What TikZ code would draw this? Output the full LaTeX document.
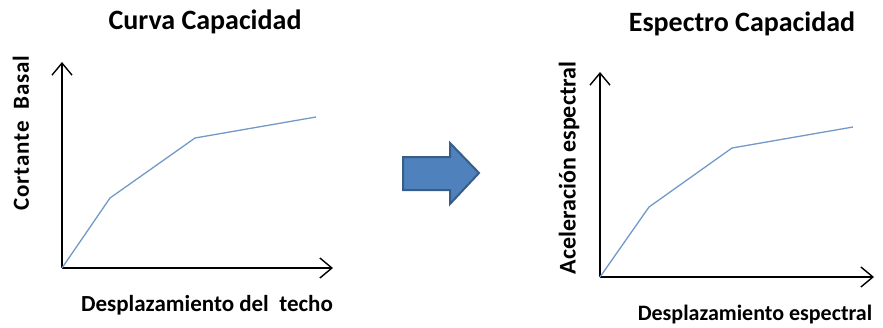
\documentclass[tikz,border=0pt]{standalone}
\usepackage{fontspec}
\setmainfont{Carlito}
\usetikzlibrary{arrows.meta}
\definecolor{curveblue}{HTML}{7399C9}
\definecolor{arrowfill}{HTML}{4F81BD}
\definecolor{arrowline}{HTML}{385D8A}
\begin{document}
\begin{tikzpicture}[x=1pt,y=-1pt,
  axis/.style={line width=1.4pt,-{Straight Barb[length=12pt,width=20pt,line width=1.4pt]}},
  curve/.style={curveblue,line width=1.3pt,line join=round},
  title/.style={font=\fontsize{28}{28}\selectfont\bfseries,inner sep=0pt},
  label/.style={font=\fontsize{23}{23}\selectfont\bfseries,inner sep=0pt}]
\useasboundingbox (0,0) rectangle (883,327);
% left plot
\coordinate (O1) at (62,268);
\coordinate (Y1) at (62,62);
\coordinate (X1) at (333,268);
\coordinate (A1) at (110,198);
\coordinate (B1) at (195,138);
\coordinate (C1) at (316,117);
\draw[axis] (O1) -- (Y1);
\draw[axis] (O1) -- (X1);
\draw[curve] (O1) -- (A1) -- (B1) -- (C1);
\node[title] (t1) at (205,22) {Curva Capacidad};
\node[label,rotate=90] (yl1) at (21,133) {\addfontfeature{LetterSpace=3.5}Cortante\ \ Basal};
\node[label] (xl1) at (207,305) {Desplazamiento del\ \ techo};
% right plot
\coordinate (O2) at (600,277);
\coordinate (Y2) at (600,72);
\coordinate (X2) at (874,277);
\coordinate (A2) at (649,207);
\coordinate (B2) at (732,148);
\coordinate (C2) at (853,127);
\draw[axis] (O2) -- (Y2);
\draw[axis] (O2) -- (X2);
\draw[curve] (O2) -- (A2) -- (B2) -- (C2);
\node[title] (t2) at (742,24) {Espectro Capacidad};
\node[label,rotate=90,font=\fontsize{24}{24}\selectfont\bfseries] (yl2) at (569,168) {Aceleración espectral};
\node[label,font=\fontsize{22}{22}\selectfont\bfseries] (xl2) at (755,315) {Desplazamiento espectral};
% block arrow
\draw[fill=arrowfill,draw=arrowline,line width=2pt,line join=miter]
  (403,157) -- (450,157) -- (450,143) -- (479,173) -- (450,204) -- (450,190) -- (403,190) -- cycle;
\end{tikzpicture}
\end{document}
